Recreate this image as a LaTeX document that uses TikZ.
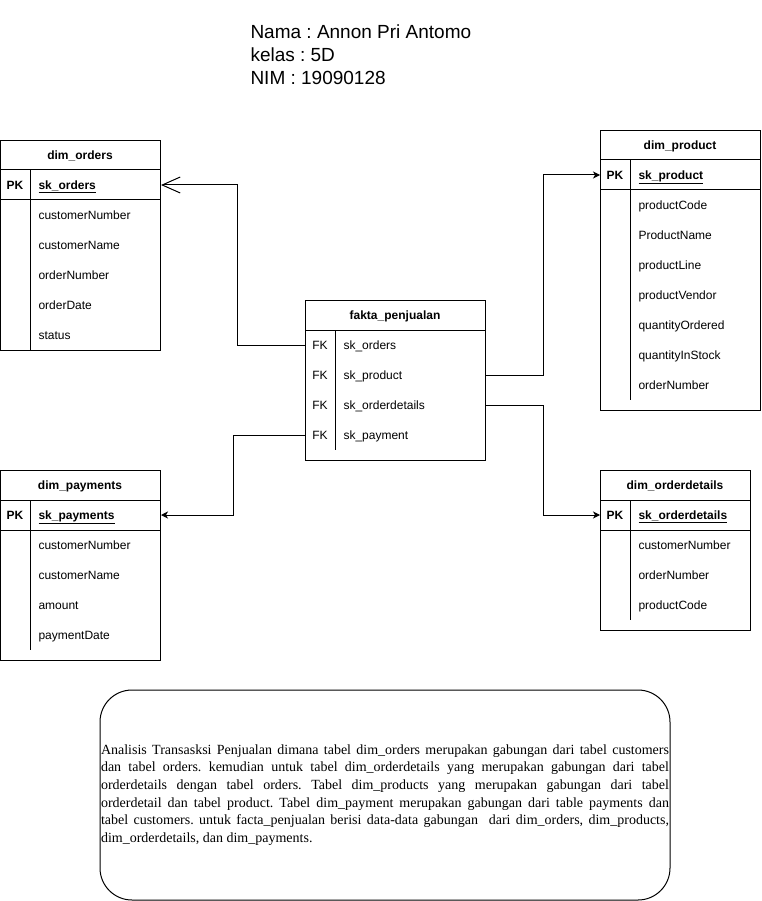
\documentclass[tikz,border=0pt]{standalone}
\usepackage{fontspec}
\setmainfont{Liberation Sans}
\newfontfamily\notefont{Liberation Serif}
\usetikzlibrary{arrows.meta}
\frenchspacing

\begin{document}
\begin{tikzpicture}[x=1pt,y=-1pt,line width=1pt,%
        tbl/.style={rectangle, draw, anchor=north west, inner sep=0pt},%
        txt/.style={inner sep=0pt, text height=9.4pt, text depth=0pt,%
                        font=\fontsize{12}{14}\selectfont},%
        hdr/.style={txt, font=\fontsize{12}{14}\selectfont\bfseries},%
        fld/.style={txt, anchor=west},%
        pkfld/.style={fld, font=\fontsize{12}{14}\selectfont\bfseries},%
        manyarrow/.style={-{Straight Barb[length=18pt,width=16pt]}},%
        onearrow/.style={-{Stealth[length=7pt,width=7pt,inset=2pt]}}]
    \useasboundingbox (0,0) rectangle (761,901);

    % title
    \node[anchor=north west, inner sep=0pt, align=left,
          font=\fontsize{19}{23}\selectfont] (title) at (250,24.4)
          {Nama : Annon Pri Antomo\\kelas : 5D\\NIM : 19090128};

    % dim_orders
    \node[tbl, minimum width=160pt, minimum height=210pt] (orders) at (0,140) {};
    \node[hdr] (orders-title) at (80,155) {dim\_orders};
    \node[pkfld, anchor=center] (orders-pk) at (15,185) {PK};
    \node[pkfld] (orders-key) at (38,185) {\underline{sk\_orders}};
    \foreach \f [count=\i] in {customerNumber,customerName,orderNumber,orderDate,status}
        \node[fld] (orders-\i) at (38,185+30*\i) {\f};
    \draw (0,170) -- ++(160,0) (0,200) -- ++(160,0) (30,170) -- (30,350);

    % dim_product
    \node[tbl, minimum width=160pt, minimum height=280pt] (product) at (600,130) {};
    \node[hdr] (product-title) at (680,145) {dim\_product};
    \node[pkfld, anchor=center] (product-pk) at (615,175) {PK};
    \node[pkfld] (product-key) at (638,175) {\underline{sk\_product}};
    \foreach \f [count=\i] in {productCode,ProductName,productLine,productVendor,%
                               quantityOrdered,quantityInStock,orderNumber}
        \node[fld] (product-\i) at (638,175+30*\i) {\f};
    \draw (600,160) -- ++(160,0) (600,190) -- ++(160,0) (630,160) -- (630,400);

    % dim_payments
    \node[tbl, minimum width=160pt, minimum height=190pt] (payments) at (0,470) {};
    \node[hdr] (payments-title) at (80,485) {dim\_payments};
    \node[pkfld, anchor=center] (payments-pk) at (15,515) {PK};
    \node[pkfld] (payments-key) at (38,515) {\underline{sk\_payments}};
    \foreach \f [count=\i] in {customerNumber,customerName,amount,paymentDate}
        \node[fld] (payments-\i) at (38,515+30*\i) {\f};
    \draw (0,500) -- ++(160,0) (0,530) -- ++(160,0) (30,500) -- (30,650);

    % dim_orderdetails
    \node[tbl, minimum width=150pt, minimum height=160pt] (details) at (600,470) {};
    \node[hdr] (details-title) at (675,485) {dim\_orderdetails};
    \node[pkfld, anchor=center] (details-pk) at (615,515) {PK};
    \node[pkfld] (details-key) at (638,515) {\underline{sk\_orderdetails}};
    \foreach \f [count=\i] in {customerNumber,orderNumber,productCode}
        \node[fld] (details-\i) at (638,515+30*\i) {\f};
    \draw (600,500) -- ++(150,0) (600,530) -- ++(150,0) (630,500) -- (630,620);

    % fakta_penjualan
    \node[tbl, minimum width=180pt, minimum height=160pt] (fakta) at (305,300) {};
    \node[hdr] (fakta-title) at (395,315) {fakta\_penjualan};
    \foreach \f [count=\i] in {sk\_orders,sk\_product,sk\_orderdetails,sk\_payment} {
        \node[fld, anchor=center] (fakta-fk\i) at (320,315+30*\i) {FK};
        \node[fld] (fakta-\i) at (343,315+30*\i) {\f};
    }
    \draw (305,330) -- ++(180,0) (335,330) -- (335,450);

    % relations
    \draw[manyarrow] (fakta.west |- fakta-1) -- ++(-67.5,0) |- (orders.east |- orders-key);
    \draw[onearrow] (fakta.east |- fakta-2) -- ++(57.5,0) |- (product.west |- product-key);
    \draw[onearrow] (fakta.east |- fakta-3) -- ++(57.5,0) |- (details.west |- details-key);
    \draw[onearrow] (fakta.west |- fakta-4) -- ++(-72,0) |- (payments.east |- payments-key);

    % keterangan
    \node[draw, rounded corners=32pt, minimum width=570pt, minimum height=210pt,
          text width=568pt, inner sep=1pt, align=justify,
          font=\notefont\fontsize{14}{17.6}\selectfont] (note) at (385,795)
          {Analisis Transasksi Penjualan dimana tabel dim\_orders merupakan gabungan dari tabel customers\linebreak
           dan tabel orders. kemudian untuk tabel dim\_orderdetails yang merupakan gabungan dari tabel\linebreak
           orderdetails dengan tabel orders. Tabel dim\_products yang merupakan gabungan dari tabel\linebreak
           orderdetail dan tabel product. Tabel dim\_payment merupakan gabungan dari table payments dan\linebreak
           tabel customers. untuk facta\_penjualan berisi data-data gabungan\ \ dari dim\_orders, dim\_products,\linebreak
           dim\_orderdetails, dan dim\_payments.};
\end{tikzpicture}
\end{document}
